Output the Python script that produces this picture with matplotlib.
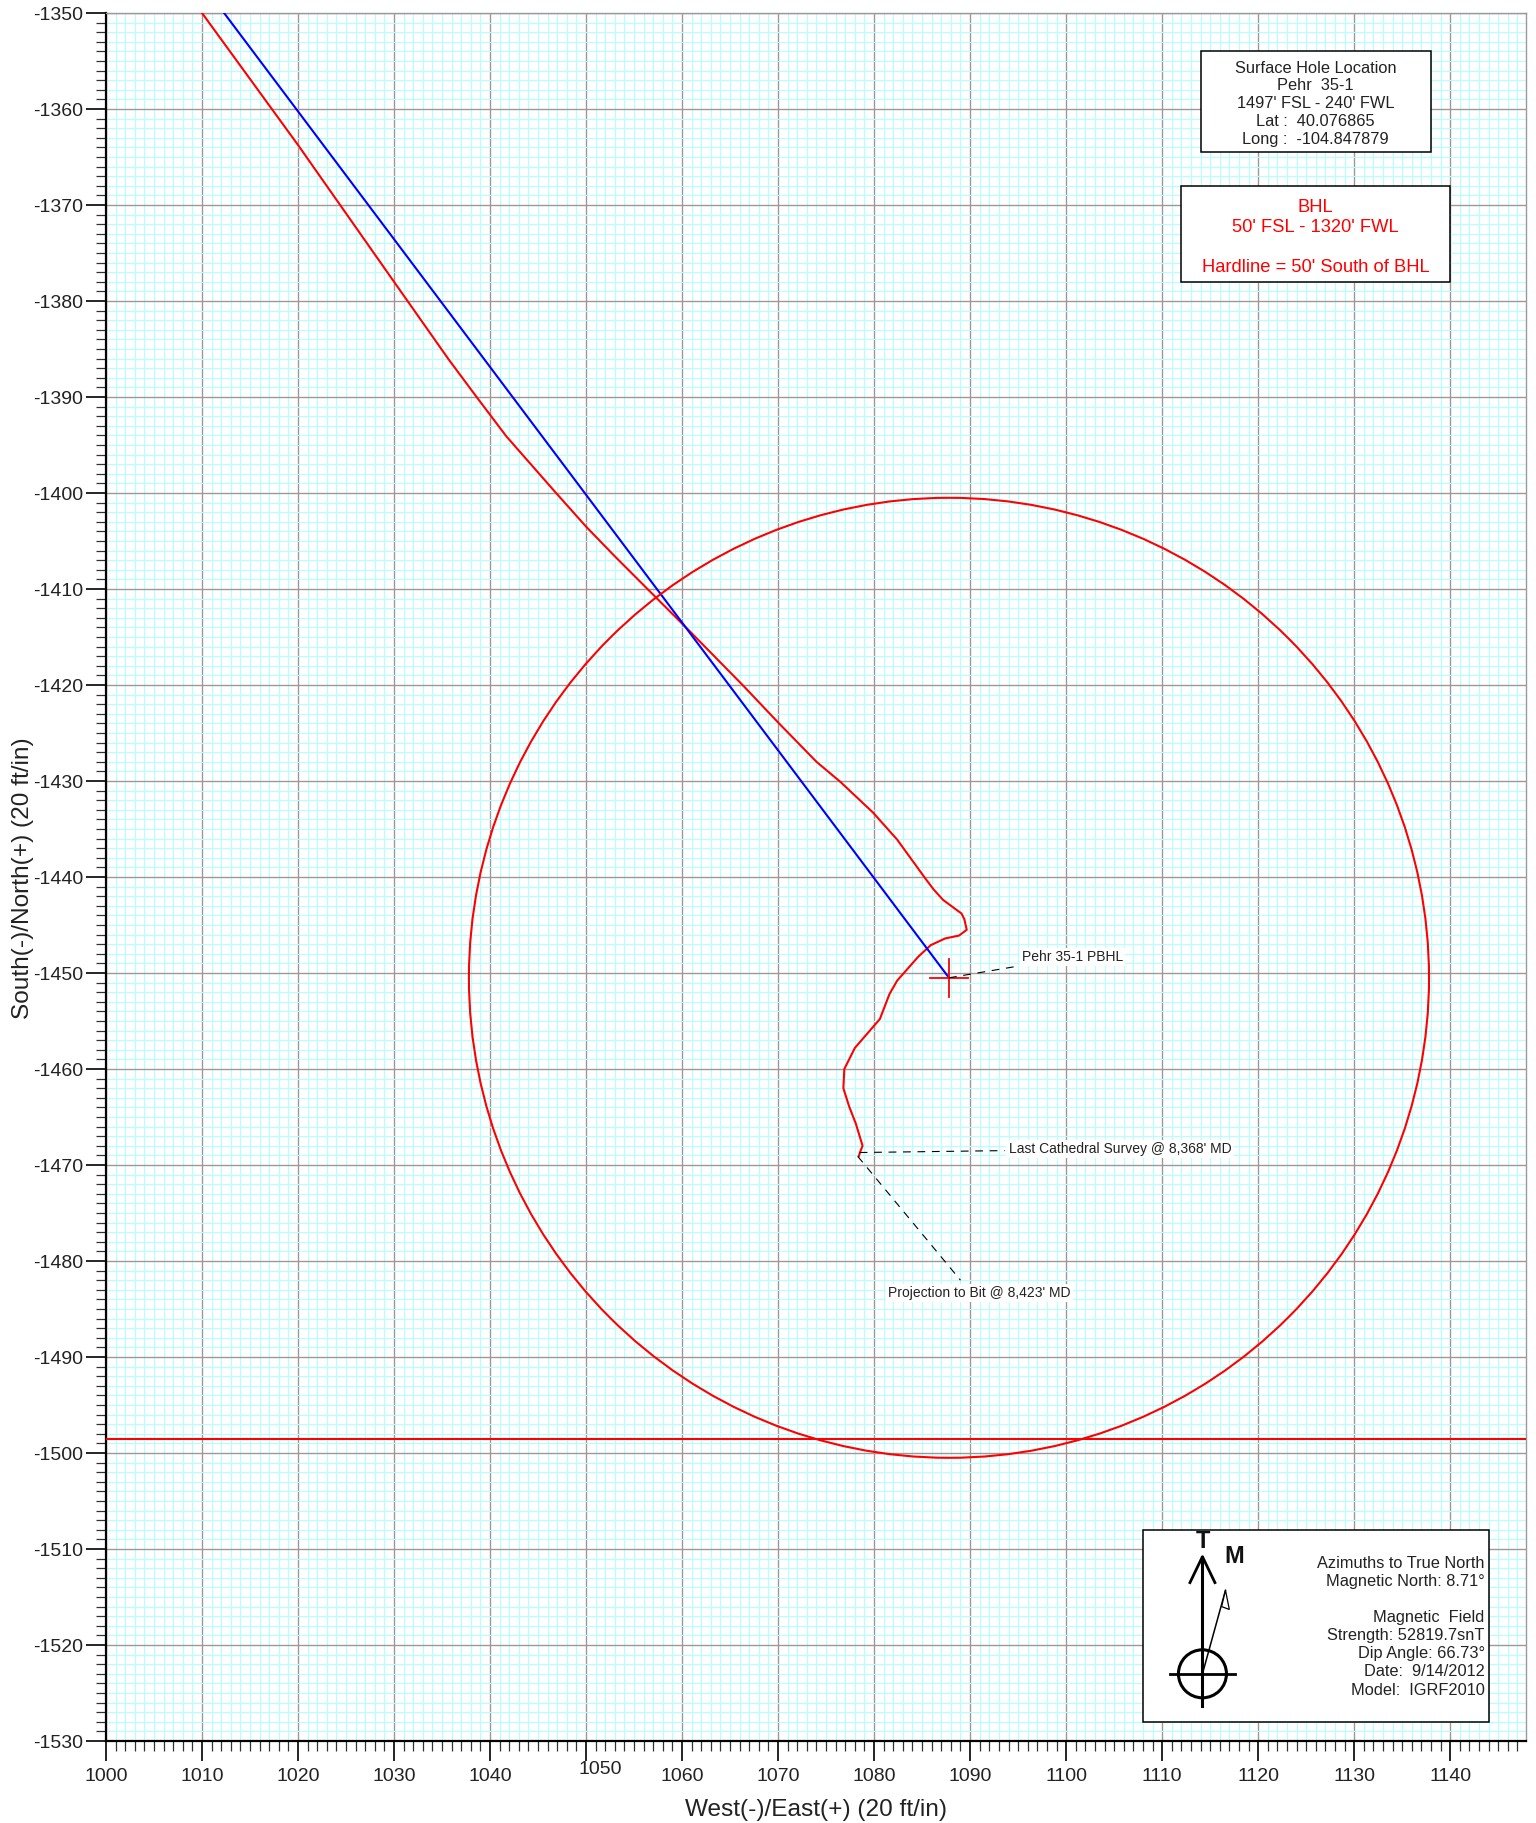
import matplotlib
matplotlib.use('Agg')
import matplotlib.pyplot as plt
from matplotlib.patches import Circle, Rectangle, Polygon
from matplotlib.ticker import MultipleLocator
import numpy as np

plt.rcParams['font.family'] = ['Liberation Sans', 'DejaVu Sans']
plt.rcParams['axes.unicode_minus'] = False

# survey track, east / north
survey_x = [1010, 1020, 1030, 1035.7, 1038.6, 1041.7, 1046.7, 1050, 1053, 1056, 1060.7, 1066.4, 1070, 1074, 1076.5, 1079.9,
            1082.4, 1085.3, 1086.2, 1087.2, 1089.1, 1089.4, 1089.65, 1088.85, 1087.4, 1085.9, 1084.6,
            1082.4, 1081.6, 1080.6, 1078, 1076.9, 1076.8, 1077.4, 1078.1, 1078.8, 1078.6, 1078.4]
survey_y = [-1350, -1363.75, -1378, -1386.1, -1390, -1394.1, -1399.8, -1403.5, -1406.6, -1409.6, -1414.3, -1420.1, -1423.9, -1428, -1430.1, -1433.3,
            -1436.1, -1440.1, -1441.3, -1442.4, -1443.8, -1444.4, -1445.5, -1446.1, -1446.4, -1447.1, -1448.3,
            -1450.8, -1452.2, -1454.8, -1457.8, -1460, -1462, -1463.9, -1465.7, -1468, -1468.5, -1469.1]

# plan line
plan_x = [1012.3, 1087.8]
plan_y = [-1350, -1450.5]

target_x = 1087.8
target_y = -1450.5
target_radius = 50
hardline_y = -1498.5

xticks = np.arange(1000, 1141, 10)
yticks = np.arange(-1530, -1349, 10)

box1_lines = ['Surface Hole Location', 'Pehr  35-1', "1497' FSL - 240' FWL", 'Lat :  40.076865', 'Long :  -104.847879']
box1_y = [-1355.8, -1357.6, -1359.45, -1361.35, -1363.15]
box2_lines = ['BHL', "50' FSL - 1320' FWL", "Hardline = 50' South of BHL"]
box2_y = [-1370.3, -1372.3, -1376.5]
info_lines = ['Azimuths to True North', 'Magnetic North: 8.71°', 'Magnetic  Field', 'Strength: 52819.7snT',
              'Dip Angle: 66.73°', 'Date:  9/14/2012', 'Model:  IGRF2010']
info_y = [-1511.5, -1513.4, -1517.1, -1519, -1520.9, -1522.8, -1524.7]

fig = plt.figure(figsize=(15.36, 18.23), dpi=100)
ax = fig.add_axes([106 / 1536, 82 / 1823, 1420 / 1536, 1728 / 1823])
ax.set_xlim(1000, 1147.9)
ax.set_ylim(-1530, -1350)

ax.xaxis.set_major_locator(MultipleLocator(10))
ax.xaxis.set_minor_locator(MultipleLocator(1))
ax.yaxis.set_major_locator(MultipleLocator(10))
ax.yaxis.set_minor_locator(MultipleLocator(1))
ax.set_xticks(xticks)
ax.set_yticks(yticks)
ax.set_axisbelow(True)
ax.grid(which='minor', color='#b4ffff', lw=0.8, zorder=1)
ax.grid(which='major', color='#9a9a9a', lw=1.0, zorder=2)
ax.tick_params(which='major', direction='out', length=14.5, width=1.2, color='black', labelsize=14, labelcolor='#222222')
ax.tick_params(which='minor', direction='out', length=7.2, width=0.9, color='#333333')
ax.tick_params(axis='x', pad=5)
ax.tick_params(axis='y', pad=2)

for s in ['left', 'bottom']:
    ax.spines[s].set_linewidth(1.6)
    ax.spines[s].set_color('black')
for s in ['top', 'right']:
    ax.spines[s].set_linewidth(1.0)
    ax.spines[s].set_color('#9a9a9a')

# the 1050 label sits off the others in the original
for t in ax.get_xticklabels():
    if t.get_text() == '1050':
        t.set_transform(t.get_transform() + matplotlib.transforms.ScaledTranslation(14 / 100, 7 / 100, fig.dpi_scale_trans))

fig.text(816 / 1536, 1 - 1810 / 1823, 'West(-)/East(+) (20 ft/in)', fontsize=17.6, color='#222222', ha='center', va='center')
fig.text(23 / 1536, 1 - 878 / 1823, 'South(-)/North(+) (20 ft/in)', fontsize=17.6, color='#222222', ha='center', va='center', rotation=90)

ax.plot(survey_x, survey_y, color='#ff0000', lw=1.5, zorder=4)
ax.plot(plan_x, plan_y, color='#0000ff', lw=1.5, zorder=4)
ax.add_patch(Circle((target_x, target_y), target_radius, fill=False, ec='#ff0000', lw=1.5, zorder=4))
ax.axhline(hardline_y, color='#ff0000', lw=1.5, zorder=4)
ax.plot([target_x - 2, target_x + 2], [target_y, target_y], color='#ff0000', lw=1.3, zorder=4)
ax.plot([target_x, target_x], [target_y - 2, target_y + 2], color='#ff0000', lw=1.3, zorder=4)

# leader lines and their labels
dash = (0, (7, 6))
ax.plot([1087.8, 1094.9], [-1450.5, -1449.3], color='black', lw=0.8, ls=dash, zorder=5)
ax.plot([1078.5, 1093.6], [-1468.7, -1468.5], color='black', lw=0.8, ls=dash, zorder=5)
ax.plot([1078.3, 1089], [-1469.1, -1482], color='black', lw=0.8, ls=dash, zorder=5)
label_box = dict(facecolor='white', edgecolor='none', pad=1.5)
ax.text(1095.4, -1448.3, 'Pehr 35-1 PBHL', fontsize=10, color='#222222', va='center', bbox=label_box, zorder=6)
ax.text(1094, -1468.3, "Last Cathedral Survey @ 8,368' MD", fontsize=10, color='#222222', va='center', bbox=label_box, zorder=6)
ax.text(1081.5, -1483.3, "Projection to Bit @ 8,423' MD", fontsize=10, color='#222222', va='center', bbox=label_box, zorder=6)

# text boxes
ax.add_patch(Rectangle((1114, -1364.5), 24, 10.5, fc='white', ec='black', lw=1.1, zorder=6))
for line, y in zip(box1_lines, box1_y):
    ax.text(1126, y, line, fontsize=11.8, color='#222222', ha='center', va='center', zorder=7)

ax.add_patch(Rectangle((1112, -1378), 28, 10, fc='white', ec='black', lw=1.1, zorder=6))
for line, y in zip(box2_lines, box2_y):
    ax.text(1126, y, line, fontsize=13.2, color='#ff0000', ha='center', va='center', zorder=7)

ax.add_patch(Rectangle((1108, -1528), 36, 20, fc='white', ec='black', lw=1.1, zorder=6))
for line, y in zip(info_lines, info_y):
    ax.text(1143.6, y, line, fontsize=11.75, color='#222222', ha='right', va='center', zorder=7)

# north arrow
cx = 1114.2
cy = -1523
ax.plot([cx, cx], [-1510.8, -1526.4], color='black', lw=2.2, zorder=7)
ax.plot([cx - 1.3, cx, cx + 1.3], [-1513.5, -1510.8, -1513.5], color='black', lw=2.0, zorder=7)
ax.plot([cx - 3.35, cx + 3.35], [cy, cy], color='black', lw=2.0, zorder=7)
ax.add_patch(Circle((cx, cy), 2.5, fill=False, ec='black', lw=2.2, zorder=7))
ax.plot([cx, 1116.6], [cy, -1514.3], color='black', lw=1.1, zorder=7)
ax.add_patch(Polygon([(1116.6, -1514.3), (1117, -1516.3), (1116.2, -1516)], fc='white', ec='black', lw=0.9, zorder=7))
ax.text(cx, -1509.2, 'T', fontsize=17, fontweight='bold', color='#111111', ha='center', va='center', zorder=7)
ax.text(1117.5, -1510.8, 'M', fontsize=17, fontweight='bold', color='#111111', ha='center', va='center', zorder=7)

fig.savefig('out.png', dpi=100)
